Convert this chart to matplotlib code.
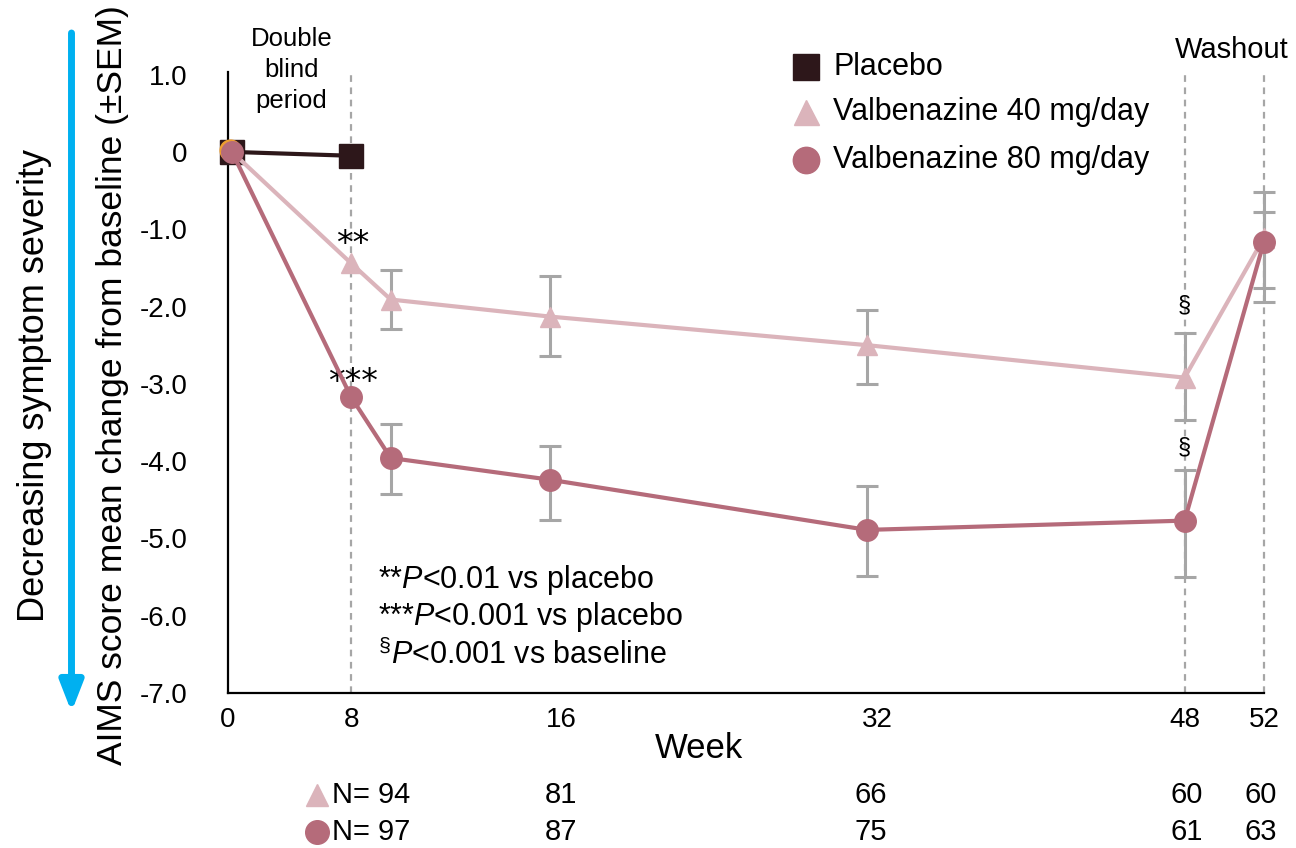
"""AIMS change from baseline over 52 weeks, valbenazine vs placebo."""

import matplotlib

matplotlib.use("Agg")
import matplotlib.pyplot as plt
import matplotlib.transforms as mtransforms
from matplotlib.lines import Line2D

plt.rcParams["font.family"] = ["Liberation Sans", "DejaVu Sans"]
plt.rcParams["axes.unicode_minus"] = False
plt.rcParams["mathtext.fontset"] = "custom"
plt.rcParams["mathtext.rm"] = "Liberation Sans"
plt.rcParams["mathtext.it"] = "Liberation Sans:italic"

# ---- data -------------------------------------------------------------
weeks = [0, 6, 8, 16, 32, 48, 52]

placebo_weeks = [0, 6]
placebo_change = [0.0, -0.05]

vbz40_change = [0.0, -1.44, -1.91, -2.13, -2.50, -2.92, -1.11]
vbz40_err_lo = [0.0, 0.0, 0.38, 0.51, 0.50, 0.55, 0.65]
vbz40_err_hi = [0.0, 0.0, 0.38, 0.53, 0.46, 0.58, 0.59]

vbz80_change = [0.0, -3.17, -3.96, -4.24, -4.89, -4.77, -1.16]
vbz80_err_lo = [0.0, 0.0, 0.46, 0.52, 0.60, 0.73, 0.78]
vbz80_err_hi = [0.0, 0.0, 0.44, 0.44, 0.57, 0.66, 0.38]

ytick_vals = [1, 0, -1, -2, -3, -4, -5, -6, -7]
ytick_labels = ["1.0", "0", "-1.0", "-2.0", "-3.0", "-4.0", "-5.0", "-6.0", "-7.0"]

xtick_pos = [-0.2, 6, 16.6, 32.5, 48, 52]
xtick_labels = ["0", "8", "16", "32", "48", "52"]

n_pos = [16.6, 32.2, 48.1, 51.85]
n_vbz40 = [94, 81, 66, 60, 60]
n_vbz80 = [97, 87, 75, 61, 63]

phase_lines = [6, 48, 52]

# ---- styles -----------------------------------------------------------
DARK = "#2d171a"
PINK = "#dbb4bb"
ROSE = "#b56b7a"
ORANGE = "#f0a030"
GREY = "#a6a6a6"
BLUE = "#00b0f0"

W, H = 1296, 848
fig = plt.figure(figsize=(W / 100, H / 100), dpi=100)
ax = fig.add_axes([228 / W, 1 - 693 / H, 1036 / W, 621 / H])
ax.set_xlim(0, 52)
ax.set_ylim(-7, -7 + 621 / 77.3)

for x in phase_lines:
    ax.axvline(x, color=GREY, lw=1.6, ls=(0, (3, 2.5)), zorder=1, clip_on=False)

ax.errorbar(weeks[2:], vbz40_change[2:], yerr=[vbz40_err_lo[2:], vbz40_err_hi[2:]],
            fmt="none", ecolor=GREY, elinewidth=2.2, capsize=8, capthick=2.2,
            zorder=2, clip_on=False)
ax.errorbar(weeks[2:], vbz80_change[2:], yerr=[vbz80_err_lo[2:], vbz80_err_hi[2:]],
            fmt="none", ecolor=GREY, elinewidth=2.2, capsize=8, capthick=2.2,
            zorder=2, clip_on=False)

ax.plot(placebo_weeks, placebo_change, color=DARK, lw=3, marker="s", ms=17,
        zorder=3, clip_on=False)
ax.plot(weeks, vbz40_change, color=PINK, lw=3, marker="^", ms=15,
        markevery=list(range(1, len(weeks))), zorder=4, clip_on=False)
shift = mtransforms.ScaledTranslation(-1.5 / 72, 1.5 / 72, fig.dpi_scale_trans)
ax.plot(weeks[0], vbz40_change[0], "o", color=ORANGE, ms=15, zorder=4.5,
        transform=ax.transData + shift, clip_on=False)
ax.plot(weeks, vbz80_change, color=ROSE, lw=3, marker="o", ms=15.5,
        zorder=5, clip_on=False)

# axes
for side in ["top", "right"]:
    ax.spines[side].set_visible(False)
for side in ["left", "bottom"]:
    ax.spines[side].set_linewidth(1.6)
    ax.spines[side].set_color("black")

ax.set_yticks(ytick_vals, ytick_labels)
ax.set_xticks(xtick_pos, xtick_labels)
ax.tick_params(axis="y", length=0, pad=29, labelsize=20)
ax.tick_params(axis="x", length=0, pad=10, labelsize=20)

ax.set_xlabel("Week", fontsize=25)
ax.xaxis.set_label_coords(0.455, -0.0886)
ax.xaxis.label.set_va("center")
ax.set_ylabel("AIMS score mean change from baseline (±SEM)", fontsize=25.5)
ax.yaxis.set_label_coords(-0.1118, 0.496)
ax.yaxis.label.set_va("center")

# significance markers
ax.text(6.1, -1.2, "**", fontsize=24, family="DejaVu Sans", ha="center", va="center")
ax.text(6.1, -2.98, "***", fontsize=24, family="DejaVu Sans", ha="center", va="center")
ax.text(48, -1.99, "§", fontsize=17, ha="center", va="center")
ax.text(48, -3.82, "§", fontsize=17, ha="center", va="center")

ax.text(7.37, -5.54, r"**$\mathit{P}$<0.01 vs placebo", fontsize=22, va="center")
ax.text(7.37, -6.02, r"***$\mathit{P}$<0.001 vs placebo", fontsize=22, va="center")
ax.text(7.37, -6.51, r"$^{\mathrm{§}}\mathit{P}$<0.001 vs baseline", fontsize=22, va="center")

# phase labels
top = mtransforms.blended_transform_factory(ax.transData, ax.transAxes)
ax.text(3.0, 1.003, "Double\nblind\nperiod", transform=top, fontsize=18.5,
        ha="center", va="center", linespacing=1.38)
ax.text(50.4, 1.035, "Washout", transform=top, fontsize=21, ha="center", va="center")

# patient counts under the axis
ax.add_line(Line2D([4.26], [-0.164], transform=top, marker="^", ms=16, color=PINK,
                   ls="none", clip_on=False))
ax.add_line(Line2D([4.26], [-0.224], transform=top, marker="o", ms=17, color=ROSE,
                   ls="none", clip_on=False))
ax.text(5.05, -0.164, f"N= {n_vbz40[0]}", transform=top, fontsize=21, va="center")
ax.text(5.05, -0.224, f"N= {n_vbz80[0]}", transform=top, fontsize=21, va="center")
for x, a, b in zip(n_pos, n_vbz40[1:], n_vbz80[1:]):
    ax.text(x, -0.164, str(a), transform=top, fontsize=21, ha="center", va="center")
    ax.text(x, -0.224, str(b), transform=top, fontsize=21, ha="center", va="center")

# legend
legend_items = [("s", DARK, 19, "Placebo", 67),
                ("^", PINK, 18, "Valbenazine 40 mg/day", 112),
                ("o", ROSE, 19, "Valbenazine 80 mg/day", 160)]
for marker, color, ms, label, ypx in legend_items:
    fig.add_artist(Line2D([806 / W], [1 - ypx / H], transform=fig.transFigure,
                          marker=marker, ms=ms, color=color, ls="none"))
    fig.text(833 / W, 1 - ypx / H, label, fontsize=22, va="center")

# direction arrow
fig.text(35 / W, 1 - 385 / H, "Decreasing symptom severity", rotation=90,
         fontsize=26, ha="center", va="center")
ax.annotate("", xy=(71.5 / W, 1 - 712 / H), xycoords="figure fraction",
            xytext=(71.5 / W, 1 - 33 / H), textcoords="figure fraction",
            arrowprops=dict(arrowstyle="-|>,head_length=0.9,head_width=0.35",
                            color=BLUE, lw=5, shrinkA=0, shrinkB=0,
                            mutation_scale=20),
            annotation_clip=False)

fig.savefig("out.png", dpi=100)
